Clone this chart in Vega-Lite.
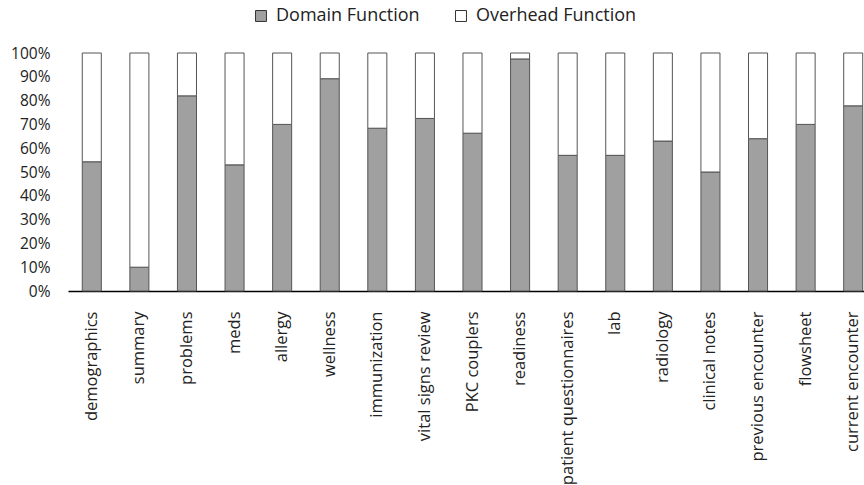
{
  "$schema": "https://vega.github.io/schema/vega-lite/v6.json",
  "width": 796,
  "height": 238,
  "autosize": {"type": "none"},
  "padding": {"left": 68, "top": 53, "right": 0, "bottom": 194},
  "background": "white",
  "config": {"view": {"stroke": null}, "font": "Open Sans"},
  "data": {
    "values": [
      {"category": "demographics", "series": "Domain Function", "ord": 0, "value": 54.3},
      {"category": "demographics", "series": "Overhead Function", "ord": 1, "value": 45.7},
      {"category": "summary", "series": "Domain Function", "ord": 0, "value": 10},
      {"category": "summary", "series": "Overhead Function", "ord": 1, "value": 90},
      {"category": "problems", "series": "Domain Function", "ord": 0, "value": 82},
      {"category": "problems", "series": "Overhead Function", "ord": 1, "value": 18},
      {"category": "meds", "series": "Domain Function", "ord": 0, "value": 53},
      {"category": "meds", "series": "Overhead Function", "ord": 1, "value": 47},
      {"category": "allergy", "series": "Domain Function", "ord": 0, "value": 70},
      {"category": "allergy", "series": "Overhead Function", "ord": 1, "value": 30},
      {"category": "wellness", "series": "Domain Function", "ord": 0, "value": 89.2},
      {"category": "wellness", "series": "Overhead Function", "ord": 1, "value": 10.8},
      {"category": "immunization", "series": "Domain Function", "ord": 0, "value": 68.4},
      {"category": "immunization", "series": "Overhead Function", "ord": 1, "value": 31.6},
      {"category": "vital signs review", "series": "Domain Function", "ord": 0, "value": 72.5},
      {"category": "vital signs review", "series": "Overhead Function", "ord": 1, "value": 27.5},
      {"category": "PKC couplers", "series": "Domain Function", "ord": 0, "value": 66.3},
      {"category": "PKC couplers", "series": "Overhead Function", "ord": 1, "value": 33.7},
      {"category": "readiness", "series": "Domain Function", "ord": 0, "value": 97.5},
      {"category": "readiness", "series": "Overhead Function", "ord": 1, "value": 2.5},
      {"category": "patient questionnaires", "series": "Domain Function", "ord": 0, "value": 57},
      {"category": "patient questionnaires", "series": "Overhead Function", "ord": 1, "value": 43},
      {"category": "lab", "series": "Domain Function", "ord": 0, "value": 57},
      {"category": "lab", "series": "Overhead Function", "ord": 1, "value": 43},
      {"category": "radiology", "series": "Domain Function", "ord": 0, "value": 63},
      {"category": "radiology", "series": "Overhead Function", "ord": 1, "value": 37},
      {"category": "clinical notes", "series": "Domain Function", "ord": 0, "value": 50},
      {"category": "clinical notes", "series": "Overhead Function", "ord": 1, "value": 50},
      {"category": "previous encounter", "series": "Domain Function", "ord": 0, "value": 64},
      {"category": "previous encounter", "series": "Overhead Function", "ord": 1, "value": 36},
      {"category": "flowsheet", "series": "Domain Function", "ord": 0, "value": 70},
      {"category": "flowsheet", "series": "Overhead Function", "ord": 1, "value": 30},
      {"category": "current encounter", "series": "Domain Function", "ord": 0, "value": 77.8},
      {"category": "current encounter", "series": "Overhead Function", "ord": 1, "value": 22.2}
    ]
  },
  "mark": {"type": "bar", "stroke": "#555555", "strokeWidth": 1},
  "encoding": {
    "x": {
      "field": "category",
      "type": "nominal",
      "sort": null,
      "title": null,
      "scale": {"range": [0, 809], "paddingInner": 0.6, "paddingOuter": 0.3},
      "axis": {
        "labelAngle": -90,
        "labelFontSize": 16.5,
        "labelColor": "#222222",
        "labelPadding": 20,
        "labelLimit": 300,
        "ticks": false,
        "tickSize": 0,
        "domainColor": "#000000",
        "domainWidth": 1.5,
        "grid": false
      }
    },
    "y": {
      "field": "value",
      "type": "quantitative",
      "stack": "normalize",
      "title": null,
      "scale": {"domain": [0, 1]},
      "axis": {
        "format": ".0%",
        "values": [0, 0.1, 0.2, 0.3, 0.4, 0.5, 0.6, 0.7, 0.8, 0.9, 1],
        "labelFontSize": 15.5,
        "labelColor": "#222222",
        "labelPadding": 18,
        "ticks": false,
        "tickSize": 0,
        "domain": false,
        "grid": false
      }
    },
    "color": {
      "field": "series",
      "type": "nominal",
      "scale": {"domain": ["Domain Function", "Overhead Function"], "range": ["#a0a0a0", "#ffffff"]},
      "legend": {
        "title": null,
        "orient": "none",
        "legendX": 184,
        "legendY": -46,
        "direction": "horizontal",
        "symbolType": "square",
        "symbolSize": 120,
        "symbolStrokeColor": "#333333",
        "symbolStrokeWidth": 1,
        "labelFontSize": 18,
        "labelColor": "#222222",
        "labelOffset": 6,
        "labelLimit": 300,
        "columnPadding": 32
      }
    },
    "order": {"field": "ord", "type": "quantitative"}
  }
}
